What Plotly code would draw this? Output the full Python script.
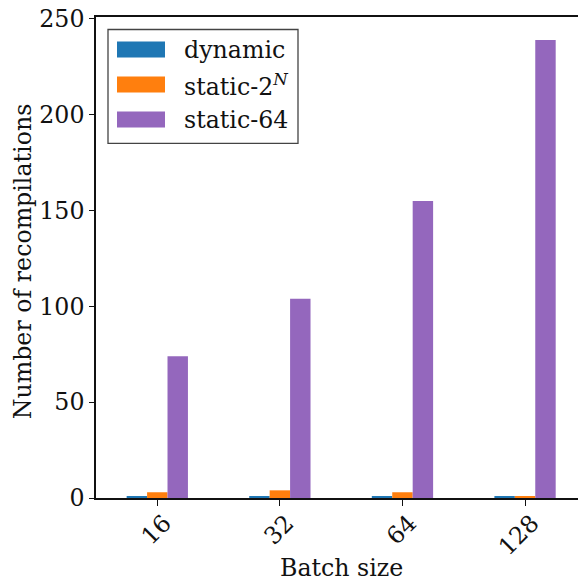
import plotly.graph_objects as go

# ---- data ----
batch_sizes = ["16", "32", "64", "128"]
series_names = ["dynamic", "static-2<sup><i>N</i></sup>", "static-64"]
dynamic = [1, 1, 1, 1]
static_2n = [3, 4, 3, 1]
static_64 = [74, 104, 155, 239]
series_values = [dynamic, static_2n, static_64]
colors = ["#1f77b4", "#ff7f0e", "#9467bd"]
y_ticks = [0, 50, 100, 150, 200, 250]
x_title = "Batch size"
y_title = "Number of recompilations"

W, H = 578, 582
ML, MR, MT, MB = 96, 0, 16.5, 84
PW = W - ML - MR
PH = H - MT - MB

FONT = "DejaVu Serif"
FS = 23.7
xpos = list(range(len(batch_sizes)))

fig = go.Figure()
for name, vals, col in zip(series_names, series_values, colors):
    fig.add_trace(go.Bar(x=xpos, y=vals, name=name, marker=dict(color=col, line=dict(width=0)),
                         showlegend=False))

def px_x(p):
    return (p - ML) / PW

def px_y(p):
    return (H - MB - p) / PH

# manual legend (matplotlib style)
shapes = [dict(type="rect", xref="paper", yref="paper",
               x0=px_x(108), x1=px_x(298), y0=px_y(143), y1=px_y(29),
               line=dict(color="#444444", width=1.3), fillcolor="white", layer="above")]
annotations = []
row_y = [49, 84, 119]
for ry, name, col in zip(row_y, series_names, colors):
    shapes.append(dict(type="rect", xref="paper", yref="paper",
                       x0=px_x(117), x1=px_x(165), y0=px_y(ry + 8), y1=px_y(ry - 8),
                       line=dict(width=0), fillcolor=col, layer="above"))
    annotations.append(dict(xref="paper", yref="paper", x=px_x(182), y=px_y(ry + 1),
                            text=name, showarrow=False, xanchor="left", yanchor="middle",
                            font=dict(family=FONT, size=FS, color="#111111")))

# axis titles placed as in the reference (x title centred on the full, cropped axis)
annotations.append(dict(xref="paper", yref="paper", x=px_x(341), y=px_y(568), text=x_title,
                        showarrow=False, xanchor="center", yanchor="middle", borderpad=0,
                        font=dict(family=FONT, size=FS, color="#111111")))
annotations.append(dict(xref="paper", yref="paper", x=px_x(23), y=px_y(261), text=y_title,
                        showarrow=False, xanchor="center", yanchor="middle", textangle=-90,
                        font=dict(family=FONT, size=FS, color="#111111")))

fig.update_layout(
    width=W, height=H,
    margin=dict(l=ML, r=MR, t=MT, b=MB, pad=0),
    paper_bgcolor="white", plot_bgcolor="white",
    barmode="group", bargap=0.5, bargroupgap=0,
    font=dict(family=FONT, size=FS, color="#111111"),
    shapes=shapes, annotations=annotations,
    xaxis=dict(range=[-0.5, 3.432], tickvals=xpos, ticktext=batch_sizes, tickangle=-45,
               showline=True, mirror=True, linecolor="#111111", linewidth=1.5,
               ticks="outside", ticklen=6, tickcolor="#111111", showgrid=False, zeroline=False,
               tickfont=dict(family=FONT, size=FS), automargin=False,
               ticklabelshift=7, ticklabelstandoff=-6),
    yaxis=dict(range=[0, 250.95], tickvals=y_ticks, showline=True, mirror=False,
               linecolor="#111111", linewidth=1.5, ticks="outside", ticklen=5,
               tickcolor="#111111", showgrid=False, zeroline=False, automargin=False,
               tickfont=dict(family=FONT, size=FS)),
)

fig.write_html("out.html")
